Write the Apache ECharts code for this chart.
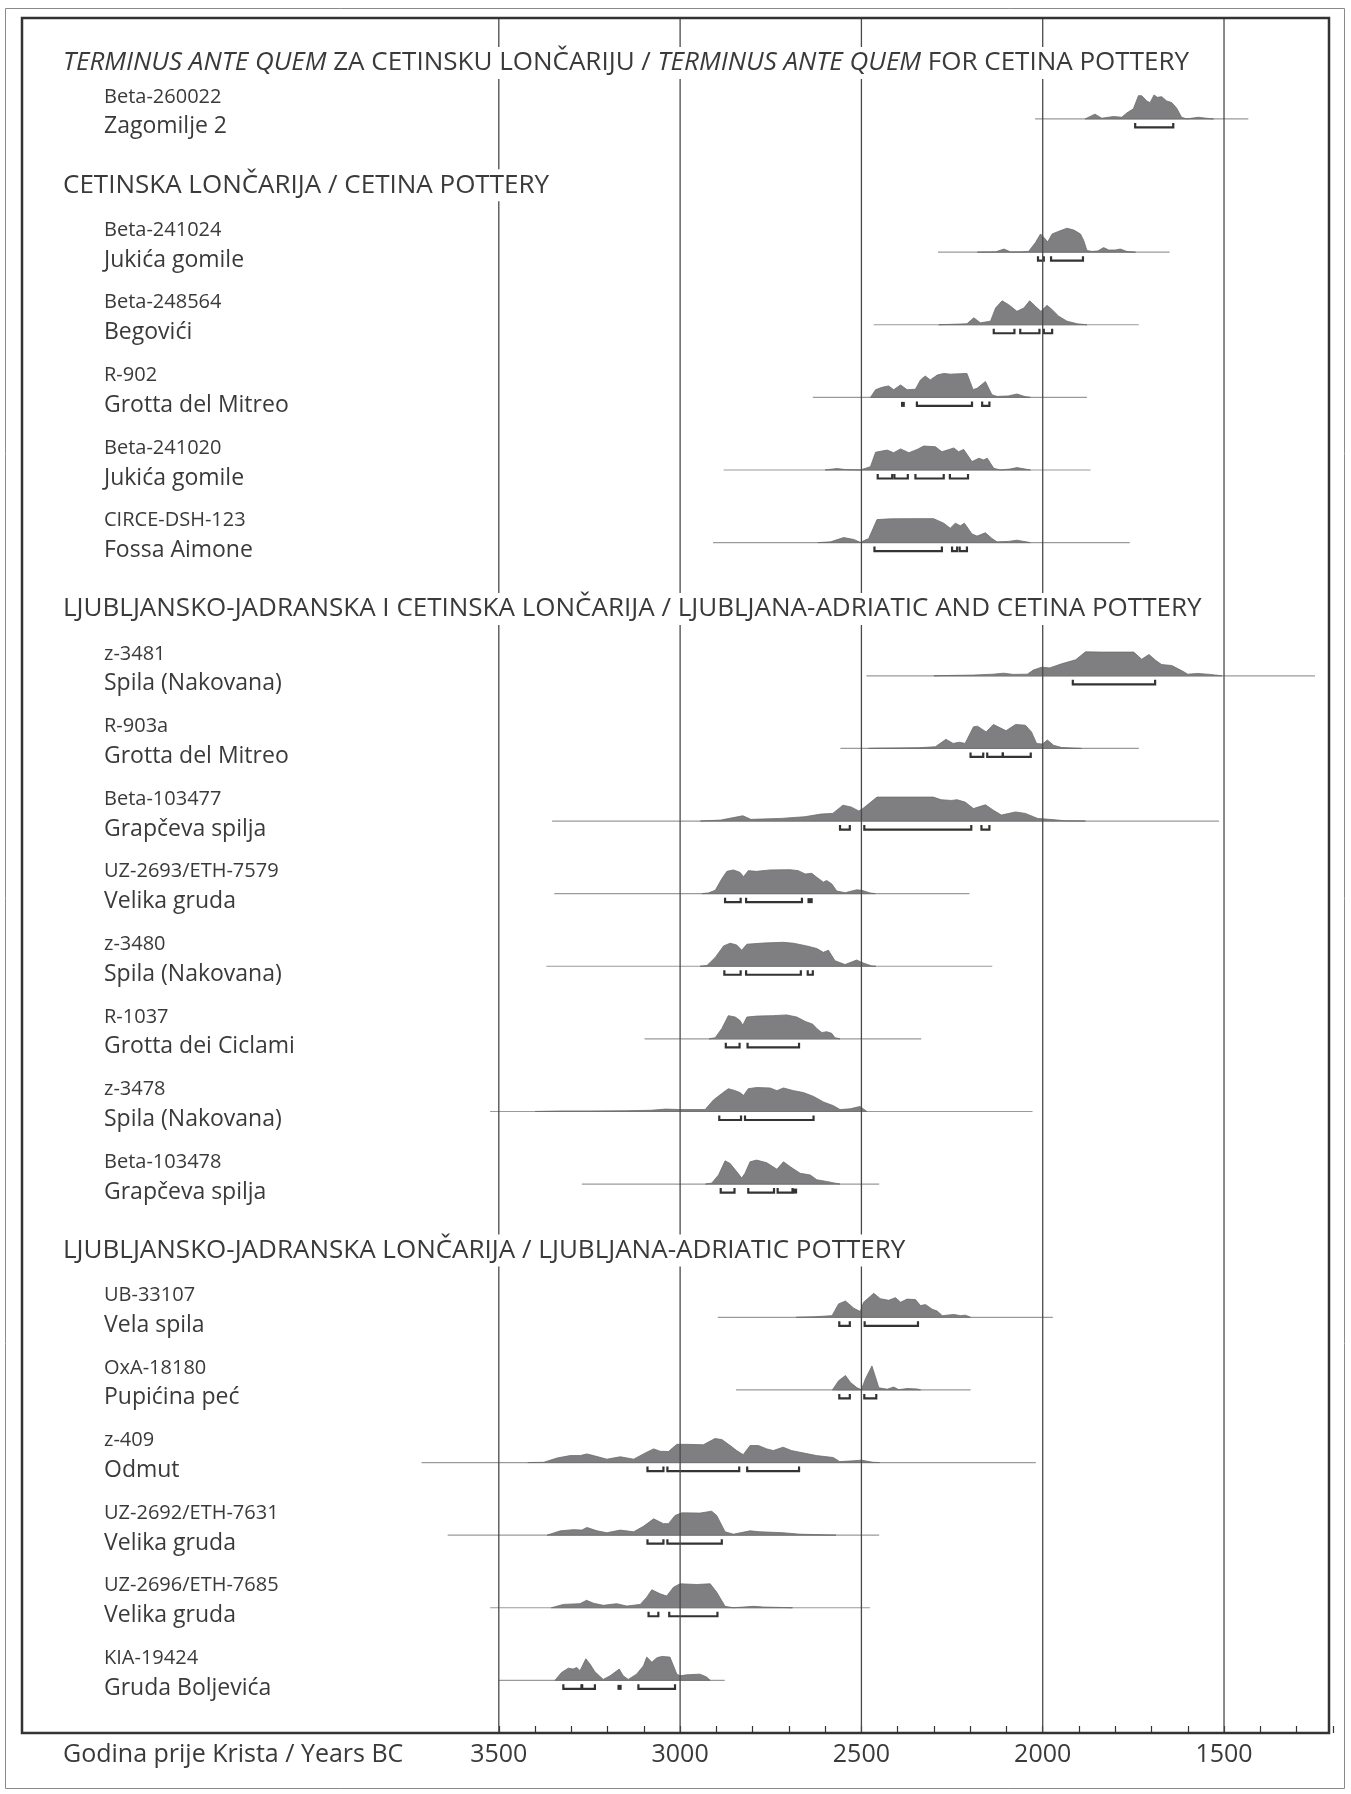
<!DOCTYPE html>
<html><head><meta charset="utf-8">
<script src="https://cdn.jsdelivr.net/npm/echarts@6/dist/echarts.min.js"></script>
<style>html,body{margin:0;padding:0;background:#fff}#c{width:1351px;height:1794px}</style>
</head><body><div id="c"></div>
<script>
// ---------------- DATA ----------------
const sectionTitles = [
  'TERMINUS ANTE QUEM ZA CETINSKU LONČARIJU / TERMINUS ANTE QUEM FOR CETINA POTTERY',
  'CETINSKA LONČARIJA / CETINA POTTERY',
  'LJUBLJANSKO-JADRANSKA I CETINSKA LONČARIJA / LJUBLJANA-ADRIATIC AND CETINA POTTERY',
  'LJUBLJANSKO-JADRANSKA LONČARIJA / LJUBLJANA-ADRIATIC POTTERY'
];
const italicPhrase = 'TERMINUS ANTE QUEM';
const sampleCodes = ['Beta-260022','Beta-241024','Beta-248564','R-902','Beta-241020','CIRCE-DSH-123',
  'z-3481','R-903a','Beta-103477','UZ-2693/ETH-7579','z-3480','R-1037','z-3478','Beta-103478',
  'UB-33107','OxA-18180','z-409','UZ-2692/ETH-7631','UZ-2696/ETH-7685','KIA-19424'];
const sampleSites = ['Zagomilje 2','Jukića gomile','Begovići','Grotta del Mitreo','Jukića gomile','Fossa Aimone',
  'Spila (Nakovana)','Grotta del Mitreo','Grapčeva spilja','Velika gruda','Spila (Nakovana)','Grotta dei Ciclami','Spila (Nakovana)','Grapčeva spilja',
  'Vela spila','Pupićina peć','Odmut','Velika gruda','Velika gruda','Gruda Boljevića'];
const sampleSection = [0,1,1,1,1,1,2,2,2,2,2,2,2,2,3,3,3,3,3,3];
// extent of the thin range line (years BC)
const rangeStart = [2021,2289,2466,2634,2880,2909,2486,2558,3353,3347,3369,3098,3524,3271,2896,2846,3713,3641,3524,3500];
const rangeEnd   = [1433,1650,1735,1878,1868,1760,1249,1735,1514,2202,2139,2335,2028,2451,1972,2199,2019,2451,2476,2877];
// probability distributions: [year BC, relative probability 0-100]
const d01 = [[1883,0],[1856,20],[1837,3],[1805,10],[1782,7],[1768,25],[1750,42],[1736,97],[1727,97],[1713,75],[1704,68],[1693,100],[1684,90],[1672,93],[1658,75],[1644,68],[1631,46],[1617,7],[1603,0],[1571,7],[1539,1],[1529,0]];
const d02 = [[2180,0],[2130,1],[2107,13],[2089,1],[2060,1],[2039,3],[2020,40],[2006,76],[1986,43],[1974,76],[1956,87],[1933,100],[1914,92],[1896,76],[1887,49],[1878,7],[1864,3],[1848,5],[1832,19],[1818,9],[1800,9],[1786,13],[1768,3],[1744,0]];
const d03 = [[2287,0],[2209,4],[2190,29],[2172,8],[2144,15],[2130,70],[2112,100],[2094,84],[2071,56],[2052,70],[2036,100],[2020,77],[2005,56],[1988,81],[1974,63],[1956,36],[1933,15],[1905,4],[1878,0]];
const d04 = [[2475,0],[2461,32],[2443,42],[2425,48],[2411,32],[2392,52],[2374,32],[2351,34],[2337,73],[2324,89],[2310,73],[2291,93],[2273,100],[2255,97],[2209,100],[2192,32],[2181,38],[2158,66],[2140,11],[2126,4],[2095,6],[2071,14],[2050,4],[2034,0]];
const d05 = [[2600,0],[2585,3],[2567,6],[2545,2],[2503,0],[2475,14],[2461,74],[2429,83],[2411,72],[2392,88],[2369,72],[2346,86],[2328,100],[2296,97],[2278,76],[2245,92],[2232,76],[2218,86],[2195,35],[2176,49],[2163,42],[2153,49],[2135,7],[2117,0],[2090,4],[2071,10],[2034,0]];
const d06 = [[2620,0],[2585,3],[2549,21],[2521,13],[2503,1],[2480,17],[2457,96],[2420,99],[2365,100],[2301,100],[2273,81],[2255,60],[2241,81],[2227,70],[2216,81],[2195,36],[2181,27],[2158,41],[2140,17],[2126,3],[2095,5],[2071,10],[2034,0]];
const d07 = [[2300,0],[2280,1],[2191,3],[2136,7],[2108,11],[2081,6],[2042,7],[2026,24],[2003,36],[1981,33],[1948,50],[1909,67],[1882,100],[1837,99],[1749,99],[1727,69],[1707,89],[1688,64],[1672,47],[1644,43],[1616,21],[1600,7],[1572,10],[1539,6],[1506,0]];
const d08 = [[2480,0],[2457,1],[2341,3],[2296,7],[2267,38],[2247,21],[2230,26],[2214,21],[2191,90],[2180,93],[2156,69],[2136,100],[2120,88],[2101,74],[2075,100],[2048,97],[2031,69],[2017,21],[2001,18],[1987,35],[1970,13],[1948,4],[1893,0]];
const d09 = [[2944,0],[2888,4],[2827,22],[2805,7],[2722,11],[2656,18],[2612,29],[2579,32],[2551,66],[2529,59],[2507,42],[2496,52],[2457,100],[2302,100],[2280,89],[2252,86],[2236,89],[2214,79],[2191,52],[2158,68],[2136,45],[2114,25],[2075,38],[2048,32],[2014,11],[1981,7],[1937,1],[1882,0]];
const d10 = [[2940,0],[2922,3],[2903,14],[2885,62],[2871,93],[2853,99],[2835,89],[2825,71],[2812,96],[2789,93],[2752,99],[2697,100],[2674,96],[2655,82],[2637,85],[2623,68],[2605,48],[2596,55],[2582,41],[2568,11],[2545,4],[2513,16],[2499,14],[2476,3],[2462,0]];
const d11 = [[2945,0],[2926,3],[2903,37],[2880,85],[2862,96],[2844,89],[2830,67],[2816,92],[2770,97],[2715,100],[2687,96],[2651,85],[2623,74],[2605,58],[2591,67],[2573,23],[2545,7],[2513,26],[2499,16],[2471,1],[2460,0]];
const d12 = [[2920,0],[2903,5],[2885,43],[2867,97],[2848,91],[2835,77],[2827,57],[2816,91],[2789,95],[2743,97],[2706,100],[2678,91],[2655,73],[2634,61],[2623,43],[2609,26],[2596,30],[2582,23],[2573,5],[2559,0]];
const d13 = [[3400,0],[3330,2],[3250,2],[3150,3],[3080,5],[3040,10],[3000,8],[2931,8],[2908,48],[2885,75],[2867,95],[2848,87],[2835,79],[2825,67],[2812,95],[2789,100],[2752,98],[2733,87],[2715,98],[2687,87],[2660,79],[2632,63],[2605,40],[2577,24],[2559,8],[2531,11],[2504,21],[2485,0]];
const d14 = [[2930,0],[2913,4],[2894,38],[2876,97],[2862,86],[2844,52],[2830,25],[2821,45],[2807,93],[2789,100],[2761,89],[2733,62],[2715,93],[2697,73],[2669,45],[2641,38],[2623,18],[2596,11],[2573,4],[2559,0]];
const d15 = [[2680,0],[2631,2],[2581,7],[2563,56],[2544,68],[2521,38],[2503,24],[2494,63],[2466,100],[2448,78],[2425,71],[2406,82],[2392,63],[2374,76],[2351,74],[2337,49],[2323,53],[2305,34],[2291,26],[2277,7],[2245,12],[2227,7],[2213,9],[2199,0]];
const d16 = [[2580,0],[2563,38],[2544,60],[2530,31],[2512,9],[2500,1],[2489,46],[2471,100],[2461,53],[2452,9],[2429,3],[2411,12],[2397,1],[2374,6],[2346,4],[2337,0]];
const d17 = [[3420,0],[3376,1],[3339,19],[3303,29],[3275,29],[3257,36],[3239,29],[3202,14],[3165,24],[3128,14],[3092,43],[3073,57],[3055,47],[3032,46],[3009,76],[2982,76],[2936,74],[2904,100],[2885,96],[2862,71],[2844,50],[2826,33],[2807,71],[2784,71],[2761,57],[2743,50],[2716,64],[2693,50],[2670,43],[2624,29],[2578,21],[2560,4],[2523,7],[2500,10],[2468,1],[2450,0]];
const d18 = [[3367,0],[3330,18],[3294,23],[3271,21],[3257,32],[3229,18],[3202,10],[3165,21],[3128,14],[3101,37],[3073,68],[3046,48],[3032,48],[3014,82],[2995,93],[2945,92],[2913,100],[2899,82],[2876,14],[2853,4],[2807,18],[2780,14],[2716,10],[2670,4],[2597,1],[2570,0]];
const d19 = [[3355,0],[3322,14],[3276,17],[3258,31],[3239,19],[3212,10],[3175,17],[3147,7],[3110,14],[3092,44],[3078,75],[3055,58],[3037,49],[3018,86],[3000,100],[2954,97],[2917,100],[2899,65],[2876,6],[2853,0],[2797,6],[2770,3],[2715,1],[2690,0]];
const d20 = [[3345,0],[3327,33],[3308,51],[3295,47],[3285,54],[3276,40],[3260,90],[3249,69],[3235,36],[3212,4],[3193,19],[3168,47],[3157,19],[3143,4],[3120,26],[3101,61],[3092,97],[3078,76],[3064,94],[3051,100],[3028,97],[3009,26],[3000,19],[2982,23],[2945,26],[2927,14],[2917,0]];
// probability ranges (brackets) [from, to] years BC
const r01 = [[1745,1640]];
const r02 = [[2013,1997],[1977,1889]];
const r03 = [[2135,2078],[2062,2009],[1997,1974]];
const r04 = [[2388,2383],[2347,2195],[2167,2147]];
const r05 = [[2455,2415],[2409,2372],[2351,2273],[2256,2206]];
const r06 = [[2464,2278],[2250,2236],[2229,2209]];
const r07 = [[1917,1690]];
const r08 = [[2199,2164],[2153,2110],[2110,2033]];
const r09 = [[2559,2532],[2492,2197],[2169,2147]];
const r10 = [[2876,2833],[2818,2664],[2646,2637]];
const r11 = [[2878,2833],[2818,2667],[2648,2634]];
const r12 = [[2874,2836],[2814,2672]];
const r13 = [[2892,2832],[2821,2632]];
const r14 = [[2888,2850],[2812,2741],[2731,2690],[2686,2680]];
const r15 = [[2561,2532],[2491,2344]];
const r16 = [[2561,2532],[2492,2459]];
const r17 = [[3090,3046],[3035,2837],[2815,2672]];
const r18 = [[3090,3046],[3035,2885]];
const r19 = [[3087,3060],[3030,2897]];
const r20 = [[3322,3272],[3270,3235],[3170,3164],[3115,3014]];
const gridYears = [3500,3000,2500,2000,1500];
const axisName = 'Godina prije Krista / Years BC';

// ---------------- LAYOUT ----------------
const dists = [d01,d02,d03,d04,d05,d06,d07,d08,d09,d10,d11,d12,d13,d14,d15,d16,d17,d18,d19,d20];
const ranges = [r01,r02,r03,r04,r05,r06,r07,r08,r09,r10,r11,r12,r13,r14,r15,r16,r17,r18,r19,r20];
const FONT = '"Open Sans", "Noto Sans", sans-serif';
const TXT = '#3a3a3a';
const YMAX = 23.62, H = 0.33, PITCH = 1.0, GAP = 1.835, FIRST = 1.39;
const rowY = [], titleY = [];
let cur = 0;
sampleSection.forEach((s, i) => {
  const newSec = (i === 0 || s !== sampleSection[i - 1]);
  cur = i === 0 ? FIRST : cur + (newSec ? GAP : PITCH);
  rowY.push(cur);
  if (newSec) titleY[s] = cur - (s === 0 ? 0.77 : 0.92);
});

function renderSample(params, api) {
  const i = params.dataIndex;
  const base = rowY[i];
  const d = dists[i];
  const pts = [api.coord([d[0][0], base])];
  d.forEach(([yr, p]) => pts.push(api.coord([yr, base - p / 100 * H])));
  pts.push(api.coord([d[d.length - 1][0], base]));
  const l0 = api.coord([rangeStart[i], base]);
  const l1 = api.coord([rangeEnd[i], base]);
  const by = l0[1];
  const children = [
    {type: 'line', shape: {x1: l0[0], y1: by, x2: l1[0], y2: by}, style: {stroke: '#9a9a9a', lineWidth: 1.2}},
    {type: 'polygon', shape: {points: pts}, style: {fill: '#7f7f81', stroke: '#6c6c6e', lineWidth: 0.8}}
  ];
  ranges[i].forEach(([a, b]) => {
    const pa = api.coord([a, base]), pb = api.coord([b, base]);
    const xa = Math.min(pa[0], pb[0]), xb = Math.max(pa[0], pb[0]);
    if (xb - xa < 4) {
      children.push({type: 'rect', shape: {x: xa - 1, y: by + 4.5, width: Math.max(xb - xa + 2, 3.5), height: 5}, style: {fill: '#333'}});
    } else {
      children.push({type: 'polyline', shape: {points: [[xa, by + 4], [xa, by + 8.5], [xb, by + 8.5], [xb, by + 4]]},
        style: {stroke: '#333', lineWidth: 2.2, fill: null}});
    }
  });
  children.push({type: 'text', x: 104, y: by - 22, style: {text: sampleCodes[i], fontSize: 20, fontFamily: FONT, fill: TXT, align: 'left', verticalAlign: 'middle'}});
  children.push({type: 'text', x: 104, y: by + 8, style: {text: sampleSites[i], fontSize: 23, fontFamily: FONT, fill: TXT, align: 'left', verticalAlign: 'middle'}});
  return {type: 'group', children};
}

function renderGrid(params, api) {
  const yr = gridYears[params.dataIndex];
  const p0 = api.coord([yr, 0]), p1 = api.coord([yr, YMAX]);
  return {type: 'line', shape: {x1: p0[0], y1: p0[1], x2: p1[0], y2: p1[1]}, style: {stroke: '#4a4a4a', lineWidth: 1.3}};
}

function renderTitle(params, api) {
  const s = params.dataIndex;
  const p = api.coord([2000, titleY[s]]);
  let t = sectionTitles[s];
  if (t.indexOf(italicPhrase) >= 0) t = t.split(italicPhrase).join('{i|' + italicPhrase + '}');
  return {type: 'text', x: 58, y: p[1], style: {
    text: t, fontSize: 26, fontFamily: FONT, fill: TXT, align: 'left', verticalAlign: 'middle',
    backgroundColor: '#fff', padding: [3, 5, 3, 5],
    rich: {i: {fontStyle: 'italic', fontSize: 26, fontFamily: FONT, fill: TXT}}
  }};
}

const chart = echarts.init(document.getElementById('c'), null, {renderer: 'canvas'});
chart.setOption({
  animation: false,
  backgroundColor: '#fff',
  grid: {left: 498.8, right: 18.2, top: 18, bottom: 61},
  xAxis: {
    type: 'value', inverse: true, min: 1200, max: 3500, interval: 100, position: 'bottom',
    axisLine: {show: false, onZero: false},
    axisTick: {show: true, inside: true, length: 7, lineStyle: {color: '#333', width: 1.2}},
    axisLabel: {formatter: v => (v % 500 === 0 ? String(v) : ''), margin: 9, fontSize: 25, color: TXT, fontFamily: FONT, showMinLabel: true, showMaxLabel: true},
    splitLine: {show: false}
  },
  yAxis: {type: 'value', inverse: true, min: 0, max: YMAX, show: false},
  graphic: [
    {type: 'rect', z: 100, silent: true, shape: {x: 5.5, y: 8.5, width: 1339, height: 1780}, style: {fill: null, stroke: '#8a8a8a', lineWidth: 1}},
    {type: 'rect', z: 100, silent: true, shape: {x: 22, y: 18, width: 1307, height: 1715}, style: {fill: null, stroke: '#333', lineWidth: 2.5}},
    {type: 'text', z: 100, silent: true, x: 63, y: 1755, style: {text: axisName, fontSize: 25, fontFamily: FONT, fill: TXT, align: 'left', verticalAlign: 'middle'}}
  ],
  series: [
    {type: 'custom', coordinateSystem: 'cartesian2d', clip: false, z: 2, silent: true,
     data: sampleCodes.map((c, i) => [rangeEnd[i], rowY[i]]), encode: {x: 0, y: 1}, renderItem: renderSample},
    {type: 'custom', coordinateSystem: 'cartesian2d', clip: false, z: 3, silent: true,
     data: gridYears.map(y => [y, 0]), encode: {x: 0, y: 1}, renderItem: renderGrid},
    {type: 'custom', coordinateSystem: 'cartesian2d', clip: false, z: 4, silent: true,
     data: sectionTitles.map((t, s) => [2000, titleY[s]]), encode: {x: 0, y: 1}, renderItem: renderTitle}
  ]
});
</script></body></html>
